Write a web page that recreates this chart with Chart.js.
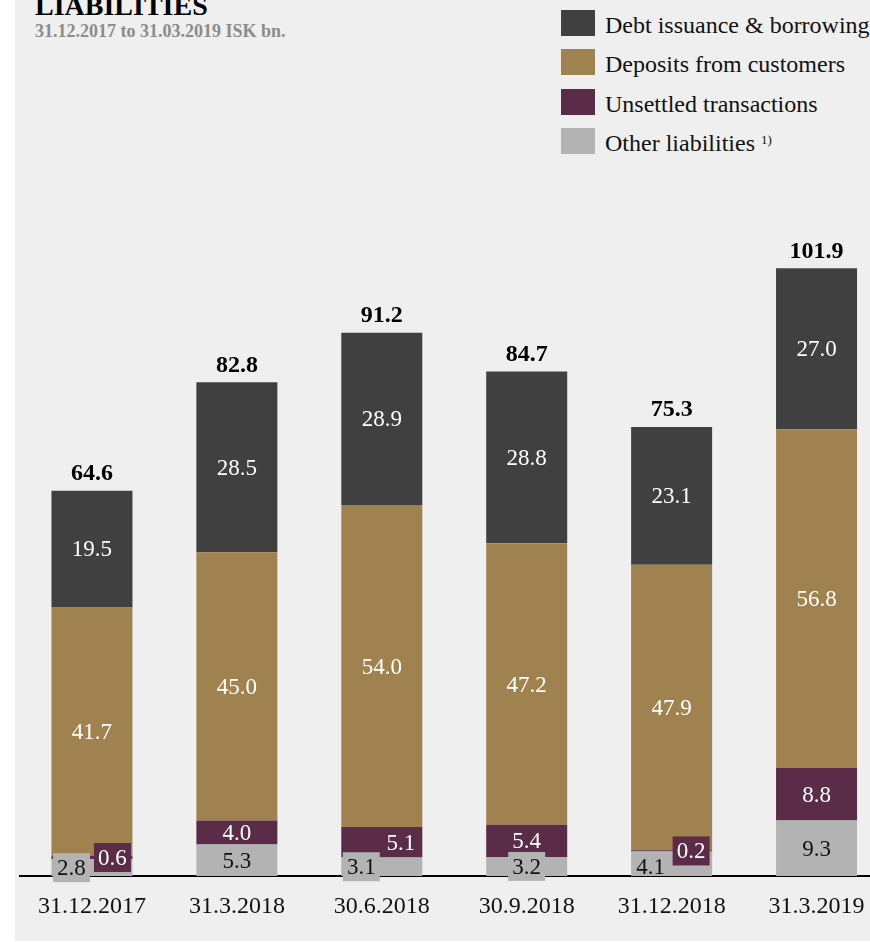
<!DOCTYPE html>
<html lang="en">
<head>
    <meta charset="UTF-8">
    <title>Liabilities</title>
    <script src="https://cdn.jsdelivr.net/npm/chart.js"></script>
    <style>
        body { margin: 0; width: 870px; height: 942px; overflow: hidden; background: #fff; position: relative; font-family: "Liberation Serif", "DejaVu Serif", serif; }
        #fondo { position: absolute; left: 15px; top: 0; width: 855px; height: 941px; background: #efefef; }
        #grafico { position: absolute; left: 0; top: 0; }
        #titulo { position: absolute; left: 35px; top: -8px; font-size: 28px; line-height: 28px; font-weight: bold; color: #000; white-space: nowrap; }
        #subtitulo { position: absolute; left: 35px; top: 21.6px; font-size: 18px; line-height: 18px; font-weight: bold; color: #8c8c8c; white-space: nowrap; }
        .fila { position: absolute; left: 561px; height: 26px; }
        .cuadro { position: absolute; left: 0; top: 0; width: 34px; height: 26px; }
        .texto { position: absolute; left: 44px; top: 3.2px; font-size: 24px; line-height: 24px; color: #111; white-space: nowrap; }
        .texto sup { font-size: 13px; position: relative; top: -3px; vertical-align: top; }
    </style>
</head>
<body>
    <div id="fondo"></div>
    <div id="titulo">LIABILITIES</div>
    <div id="subtitulo">31.12.2017 to 31.03.2019 ISK bn.</div>
    <div id="leyenda"></div>
    <canvas id="grafico" width="889" height="942"></canvas>

    <script>
        // datos (ISK bn.)
        const fechas = ["31.12.2017", "31.3.2018", "30.6.2018", "30.9.2018", "31.12.2018", "31.3.2019"];
        const deuda = [19.5, 28.5, 28.9, 28.8, 23.1, 27.0];
        const depositos = [41.7, 45.0, 54.0, 47.2, 47.9, 56.8];
        const pendientes = [0.6, 4.0, 5.1, 5.4, 0.2, 8.8];
        const otros = [2.8, 5.3, 3.1, 3.2, 4.1, 9.3];
        const totales = [64.6, 82.8, 91.2, 84.7, 75.3, 101.9];

        const series = [
            { id: "debt", label: "Debt issuance & borrowing", data: deuda, color: "#404040", texto: "#ffffff" },
            { id: "deposits", label: "Deposits from customers", data: depositos, color: "#a08250", texto: "#ffffff" },
            { id: "unsettled", label: "Unsettled transactions", data: pendientes, color: "#5a2c47", texto: "#ffffff" },
            { id: "other", label: "Other liabilities", data: otros, color: "#b3b3b3", texto: "#111111", nota: "1)" }
        ];

        // etiquetas pequeñas que se desplazan fuera del segmento
        const ajustes = {
            "other-0": { dx: -20.5, caja: true },
            "unsettled-0": { dx: 20.5, caja: true },
            "unsettled-2": { dx: 19 },
            "other-2": { dx: -20.5, caja: true },
            "other-3": { caja: true },
            "other-4": { dx: -21, dy: 3 },
            "unsettled-4": { dx: 19.5, caja: true }
        };

        // leyenda
        let leyenda = document.getElementById("leyenda");
        series.forEach((s, i) => {
            let nota = s.nota ? ` <sup>${s.nota}</sup>` : "";
            leyenda.innerHTML += `<div class="fila" style="top:${10 + 39.3 * i}px"><div class="cuadro" style="background:${s.color}"></div><div class="texto">${s.label.replace("&", "&amp;")}${nota}</div></div>`;
        });

        const etiquetas = {
            id: "etiquetas",
            afterDatasetsDraw(chart) {
                let ctx = chart.ctx;
                ctx.save();
                ctx.textAlign = "center";
                chart.data.datasets.forEach((ds, d) => {
                    let meta = chart.getDatasetMeta(d);
                    meta.data.forEach((bar, i) => {
                        let aj = ajustes[ds.serie + "-" + i] || {};
                        let x = bar.x + (aj.dx || 0);
                        let y = (bar.y + bar.base) / 2 + (aj.dy || 0);
                        if (aj.caja) {
                            ctx.fillStyle = ds.backgroundColor;
                            ctx.fillRect(x - 18.5, y - 14.5, 37, 29);
                        }
                        ctx.font = "23px 'Liberation Serif'";
                        ctx.textBaseline = "middle";
                        ctx.fillStyle = ds.colorTexto;
                        ctx.fillText(ds.data[i].toFixed(1), x, y + 1.5);
                    });
                });
                // totales arriba de cada columna
                let ultima = chart.getDatasetMeta(chart.data.datasets.length - 1);
                ultima.data.forEach((bar, i) => {
                    ctx.font = "bold 24px 'Liberation Serif'";
                    ctx.textBaseline = "alphabetic";
                    ctx.fillStyle = "#000";
                    ctx.fillText(totales[i].toFixed(1), bar.x, bar.y - 10.5);
                });
                ctx.restore();
            }
        };

        // se apilan de abajo hacia arriba
        let apiladas = series.slice().reverse().map(s => ({
            label: s.label,
            serie: s.id,
            data: s.data,
            backgroundColor: s.color,
            colorTexto: s.texto,
            borderWidth: 0,
            barPercentage: 0.559,
            categoryPercentage: 1
        }));

        let ctx = document.getElementById("grafico").getContext("2d");
        window.myChart = new Chart(ctx, {
            type: "bar",
            data: { labels: fechas, datasets: apiladas },
            options: {
                responsive: false,
                animation: false,
                layout: { padding: { left: 19.5, top: 160.3, right: 0, bottom: 0 } },
                plugins: { legend: { display: false }, tooltip: { enabled: false } },
                scales: {
                    x: {
                        stacked: true,
                        grid: { display: false, drawTicks: false },
                        border: { display: true, color: "#000", width: 2 },
                        ticks: { color: "#111", padding: 16, font: { family: "Liberation Serif", size: 24 } },
                        afterFit: scale => { scale.height = 66; }
                    },
                    y: {
                        stacked: true,
                        display: false,
                        min: 0,
                        max: 120
                    }
                }
            },
            plugins: [etiquetas]
        });
    </script>
</body>
</html>
